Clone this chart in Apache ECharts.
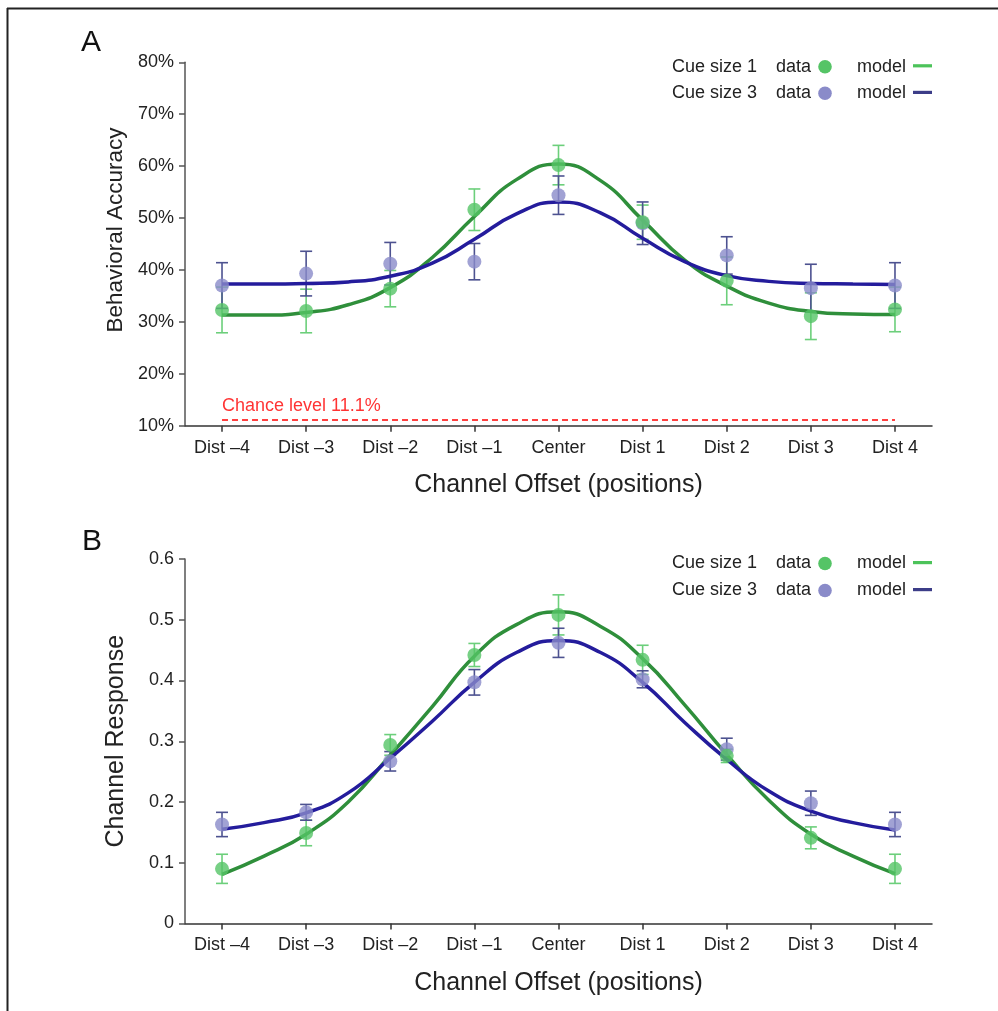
<!DOCTYPE html>
<html><head><meta charset="utf-8">
<script src="https://cdn.jsdelivr.net/npm/echarts@6/dist/echarts.min.js"></script>
<style>html,body{margin:0;padding:0;background:#fff}#c{width:998px;height:1011px}</style>
</head><body><div id="c"></div>
<script>
// ---------- data ----------
const categories = ['Dist \u20134','Dist \u20133','Dist \u20132','Dist \u20131','Center','Dist 1','Dist 2','Dist 3','Dist 4'];
const offsets = [-4,-3,-2,-1,0,1,2,3,4];
const modelOffsets = [-4,-3.5,-3,-2.5,-2,-1.5,-1,-0.5,0,0.5,1,1.5,2,2.5,3,3.5,4];

// Panel A: behavioral accuracy (%)
const accSize1 = [32.3, 32.1, 36.4, 51.6, 60.2, 49.2, 37.9, 31.1, 32.4];
const accSize1Err = [4.4, 4.2, 3.5, 4.0, 3.8, 3.3, 4.6, 4.5, 4.3];
const accSize3 = [37.0, 39.3, 41.2, 41.6, 54.4, 49.0, 42.8, 36.5, 37.0];
const accSize3Err = [4.4, 4.3, 4.1, 3.5, 3.7, 4.1, 3.6, 4.6, 4.4];
const accModel1 = [31.3, 31.3, 31.8, 33.3, 36.6, 42.4, 50.3, 57.4, 60.4, 57.2, 49.6, 41.9, 36.9, 33.6, 32.0, 31.5, 31.4];
const accModel3 = [37.3, 37.3, 37.4, 37.7, 38.8, 41.3, 45.9, 50.8, 53.1, 51.0, 46.1, 41.6, 38.9, 37.8, 37.4, 37.3, 37.2];
const chanceLevel = 11.1;

// Panel B: channel response
const respSize1 = [0.090, 0.149, 0.294, 0.442, 0.508, 0.434, 0.276, 0.141, 0.090];
const respSize1Err = [0.024, 0.021, 0.017, 0.019, 0.033, 0.024, 0.011, 0.018, 0.024];
const respSize3 = [0.163, 0.183, 0.267, 0.397, 0.462, 0.402, 0.287, 0.198, 0.163];
const respSize3Err = [0.020, 0.013, 0.016, 0.021, 0.024, 0.014, 0.018, 0.020, 0.020];
const respModel1 = [0.081, 0.111, 0.147, 0.200, 0.277, 0.357, 0.440, 0.492, 0.513, 0.489, 0.436, 0.360, 0.278, 0.203, 0.147, 0.111, 0.082];
const respModel3 = [0.155, 0.166, 0.182, 0.215, 0.272, 0.333, 0.397, 0.446, 0.466, 0.446, 0.397, 0.331, 0.270, 0.218, 0.185, 0.166, 0.154];

// ---------- style ----------
const FONT = 'Liberation Sans, Arial, Helvetica, sans-serif';
const C = {
  dot1: '#55c466', dot3: '#8a8bc9',
  err1: '#6ccf7b', err3: '#4d5290',
  model1: '#2f8f3b', model3: '#241c9c',
  leg1: '#4cc35a', leg3: '#3c3d88',
  text: '#222', axis: '#555', chance: '#ff0000'
};

const chart = echarts.init(document.getElementById('c'), null, {renderer: 'canvas'});

function pairs(xs, ys) { return xs.map((x, i) => [x, ys[i]]); }
function triples(xs, ys, es) { return xs.map((x, i) => [x, ys[i], es[i]]); }

function errRender(color) {
  return function (params, api) {
    const x = api.value(0), y = api.value(1), e = api.value(2);
    const hi = api.coord([x, y + e]), lo = api.coord([x, y - e]);
    const cw = 6;
    const st = {stroke: color, lineWidth: 1.6};
    return {type: 'group', children: [
      {type: 'line', shape: {x1: hi[0], y1: hi[1], x2: lo[0], y2: lo[1]}, style: st},
      {type: 'line', shape: {x1: hi[0] - cw, y1: hi[1], x2: hi[0] + cw, y2: hi[1]}, style: st},
      {type: 'line', shape: {x1: lo[0] - cw, y1: lo[1], x2: lo[0] + cw, y2: lo[1]}, style: st}
    ]};
  };
}

function xAxisCfg(gridIndex) {
  return {
    type: 'value', gridIndex, min: -4.44, max: 4.44,
    axisLine: {show: true, onZero: false, lineStyle: {color: '#333', width: 1.5}},
    axisTick: {show: true, customValues: offsets, length: 6, lineStyle: {color: '#333', width: 1.5}},
    axisLabel: {show: true, customValues: offsets, margin: 13, fontSize: 18, color: C.text, fontFamily: FONT,
      formatter: v => categories[offsets.indexOf(Math.round(v))]},
    splitLine: {show: false},
    name: 'Channel Offset (positions)', nameLocation: 'middle', nameGap: 47,
    nameTextStyle: {fontSize: 25, color: C.text, fontFamily: FONT}
  };
}

function yAxisCfg(gridIndex, min, max, interval, fmt, name, nameSize, pad) {
  return {
    type: 'value', gridIndex, min, max, interval,
    axisLine: {show: true, onZero: false, lineStyle: {color: C.axis, width: 1.5}},
    axisTick: {show: true, length: 6, lineStyle: {color: C.axis, width: 1.5}},
    axisLabel: {fontSize: 18, color: C.text, fontFamily: FONT, margin: 11, formatter: fmt},
    splitLine: {show: false},
    name, nameLocation: 'middle', nameGap: 56,
    nameTextStyle: {fontSize: nameSize, color: C.text, fontFamily: FONT, padding: pad}
  };
}

function legendRows(y1, y2) {
  const rows = [
    {y: y1, label: 'Cue size 1', dot: C.dot1, line: C.leg1},
    {y: y2, label: 'Cue size 3', dot: C.dot3, line: C.leg3}
  ];
  const out = [];
  rows.forEach(r => {
    const ts = {fontSize: 18, fill: C.text, fontFamily: FONT, verticalAlign: 'middle', align: 'left'};
    out.push({type: 'text', x: 672, y: r.y, style: Object.assign({text: r.label}, ts)});
    out.push({type: 'text', x: 776, y: r.y, style: Object.assign({text: 'data'}, ts)});
    out.push({type: 'circle', shape: {cx: 825, cy: r.y, r: 6.8}, style: {fill: r.dot}});
    out.push({type: 'text', x: 857, y: r.y, style: Object.assign({text: 'model'}, ts)});
    out.push({type: 'rect', shape: {x: 913, y: r.y - 2.5, width: 19, height: 3.2}, style: {fill: r.line}});
  });
  return out;
}

const option = {
  animation: false,
  backgroundColor: '#fff',
  grid: [
    {left: 185, top: 62.3, width: 747, height: 363.4},
    {left: 185, top: 559, width: 747, height: 364.5}
  ],
  xAxis: [xAxisCfg(0), xAxisCfg(1)],
  yAxis: [
    yAxisCfg(0, 10, 80, 10, '{value}%', 'Behavioral Accuracy', 22.5, [0, 0, 0, 28]),
    yAxisCfg(1, 0, 0.6, 0.1, v => v === 0 ? '0' : v.toFixed(1), 'Channel Response', 25, 0)
  ],
  graphic: [
    {type: 'line', shape: {x1: 7, y1: 8.5, x2: 998, y2: 8.5}, style: {stroke: '#222', lineWidth: 2}},
    {type: 'line', shape: {x1: 7.5, y1: 8, x2: 7.5, y2: 1011}, style: {stroke: '#222', lineWidth: 2}},
    {type: 'text', x: 81, y: 43, style: {text: 'A', fontSize: 30, fill: '#111', fontFamily: FONT, verticalAlign: 'middle'}},
    {type: 'text', x: 82, y: 542, style: {text: 'B', fontSize: 30, fill: '#111', fontFamily: FONT, verticalAlign: 'middle'}}
  ].concat(legendRows(66.7, 93.3), legendRows(563.5, 590.5)),
  series: [
    // chance level
    {type: 'line', xAxisIndex: 0, yAxisIndex: 0, data: [[-4, chanceLevel], [4, chanceLevel]], symbol: 'none',
      lineStyle: {color: C.chance, width: 1.5, type: [6, 4]}, z: 1, silent: true},
    {type: 'scatter', xAxisIndex: 0, yAxisIndex: 0, data: [[-4, chanceLevel]], symbolSize: 0,
      label: {show: true, position: 'top', align: 'left', distance: 5, formatter: 'Chance level 11.1%',
        fontSize: 18, color: C.chance, fontFamily: FONT}, z: 1, silent: true},
    // Panel A
    {type: 'custom', xAxisIndex: 0, yAxisIndex: 0, renderItem: errRender(C.err1), data: triples(offsets, accSize1, accSize1Err), encode: {x: 0, y: 1}, z: 2},
    {type: 'custom', xAxisIndex: 0, yAxisIndex: 0, renderItem: errRender(C.err3), data: triples(offsets, accSize3, accSize3Err), encode: {x: 0, y: 1}, z: 2},
    {type: 'line', xAxisIndex: 0, yAxisIndex: 0, data: pairs(modelOffsets, accModel1), smooth: 0.5, showSymbol: false, lineStyle: {color: C.model1, width: 3.5}, z: 3},
    {type: 'line', xAxisIndex: 0, yAxisIndex: 0, data: pairs(modelOffsets, accModel3), smooth: 0.5, showSymbol: false, lineStyle: {color: C.model3, width: 3.5}, z: 3},
    {type: 'scatter', xAxisIndex: 0, yAxisIndex: 0, data: pairs(offsets, accSize3), symbolSize: 14, itemStyle: {color: C.dot3}, z: 4},
    {type: 'scatter', xAxisIndex: 0, yAxisIndex: 0, data: pairs(offsets, accSize1), symbolSize: 14, itemStyle: {color: C.dot1}, z: 4},
    // Panel B
    {type: 'custom', xAxisIndex: 1, yAxisIndex: 1, renderItem: errRender(C.err1), data: triples(offsets, respSize1, respSize1Err), encode: {x: 0, y: 1}, z: 2},
    {type: 'custom', xAxisIndex: 1, yAxisIndex: 1, renderItem: errRender(C.err3), data: triples(offsets, respSize3, respSize3Err), encode: {x: 0, y: 1}, z: 2},
    {type: 'line', xAxisIndex: 1, yAxisIndex: 1, data: pairs(modelOffsets, respModel1), smooth: 0.5, showSymbol: false, lineStyle: {color: C.model1, width: 3.5}, z: 3},
    {type: 'line', xAxisIndex: 1, yAxisIndex: 1, data: pairs(modelOffsets, respModel3), smooth: 0.5, showSymbol: false, lineStyle: {color: C.model3, width: 3.5}, z: 3},
    {type: 'scatter', xAxisIndex: 1, yAxisIndex: 1, data: pairs(offsets, respSize3), symbolSize: 14, itemStyle: {color: C.dot3}, z: 4},
    {type: 'scatter', xAxisIndex: 1, yAxisIndex: 1, data: pairs(offsets, respSize1), symbolSize: 14, itemStyle: {color: C.dot1}, z: 4}
  ]
};
chart.setOption(option);
</script>
</body></html>
